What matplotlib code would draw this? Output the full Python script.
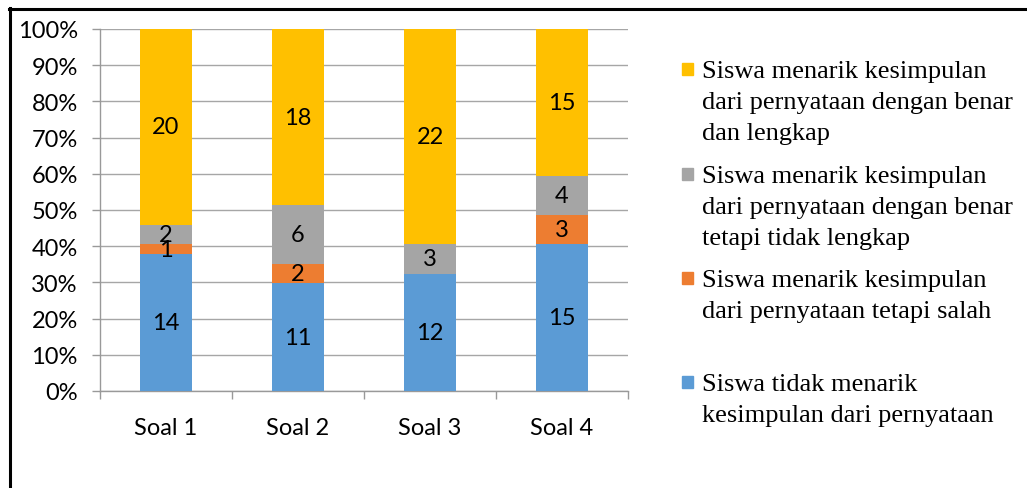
import numpy as np
import matplotlib.pyplot as plt
from matplotlib.lines import Line2D
from matplotlib.patches import Rectangle

categories = ['Soal 1', 'Soal 2', 'Soal 3', 'Soal 4']
tidak_menarik = [14, 11, 12, 15]
salah = [1, 2, 0, 3]
tidak_lengkap = [2, 6, 3, 4]
lengkap = [20, 18, 22, 15]

series = [tidak_menarik, salah, tidak_lengkap, lengkap]
colors = ['#5B9BD5', '#ED7D31', '#A5A5A5', '#FFC000']
labels = ['Siswa tidak menarik\nkesimpulan dari pernyataan',
          'Siswa menarik kesimpulan\ndari pernyataan tetapi salah',
          'Siswa menarik kesimpulan\ndari pernyataan dengan benar\ntetapi tidak lengkap',
          'Siswa menarik kesimpulan\ndari pernyataan dengan benar\ndan lengkap']
yticks = np.arange(0, 101, 10)

W, H = 1027, 489
fig = plt.figure(figsize=(W / 100, H / 100), dpi=100)
ax = fig.add_axes([100 / W, (H - 392) / H, 528 / W, 362 / H])

sans = ['Lato', 'DejaVu Sans']
serif = ['Liberation Serif', 'DejaVu Serif']

data = np.array(series, dtype=float)
totals = data.sum(axis=0)
pct = data / totals * 100
x = np.arange(len(categories))
bottom = np.zeros(len(categories))
for vals, p, c in zip(series, pct, colors):
    ax.bar(x, p, 0.4, bottom=bottom, color=c, zorder=3)
    for xi, v, pi, b in zip(x, vals, p, bottom):
        if v > 0:
            ax.text(xi, b + pi / 2, str(v), ha='center', va='center',
                    fontsize=17, family=sans, zorder=4)
    bottom += p

ax.set_xlim(-0.5, len(categories) - 0.5)
ax.set_ylim(0, 100)
ax.set_yticks(yticks)
ax.set_yticklabels([f'{t}%' for t in yticks], family=sans, fontsize=17)
ax.set_xticks(x)
ax.set_xticklabels(categories, family=sans, fontsize=17)
ax.set_xticks(np.arange(len(categories) + 1) - 0.5, minor=True)
ax.tick_params(axis='x', which='major', length=0, pad=19)
ax.tick_params(axis='x', which='minor', length=6, color='#999999', width=1)
ax.tick_params(axis='y', length=6, color='#999999', width=1, pad=10)
ax.yaxis.grid(True, color='#A6A6A6', linewidth=1, zorder=0)
for s in ['top', 'right']:
    ax.spines[s].set_visible(False)
for s in ['left', 'bottom']:
    ax.spines[s].set_color('#999999')
    ax.spines[s].set_linewidth(1)

# legend, drawn by hand (top entry first)
entry_y = [70, 175, 279, 383]
for lab, c, ey in zip(labels[::-1], colors[::-1], entry_y):
    fig.patches.append(Rectangle((682 / W, 1 - (ey + 6) / H), 11 / W, 12 / H,
                                 transform=fig.transFigure, color=c))
    for i, line in enumerate(lab.split('\n')):
        fig.text(702 / W, 1 - (ey + 2 + i * 31) / H, line, ha='left', va='center',
                 fontsize=19, family=serif)

# outer frame (top and left edges)
fig.add_artist(Line2D([9 / W, 1], [1 - 10 / H, 1 - 10 / H], color='black', linewidth=2.2))
fig.add_artist(Line2D([10 / W, 10 / W], [0, 1 - 9 / H], color='black', linewidth=2.2))

fig.savefig('out.png', dpi=100)
